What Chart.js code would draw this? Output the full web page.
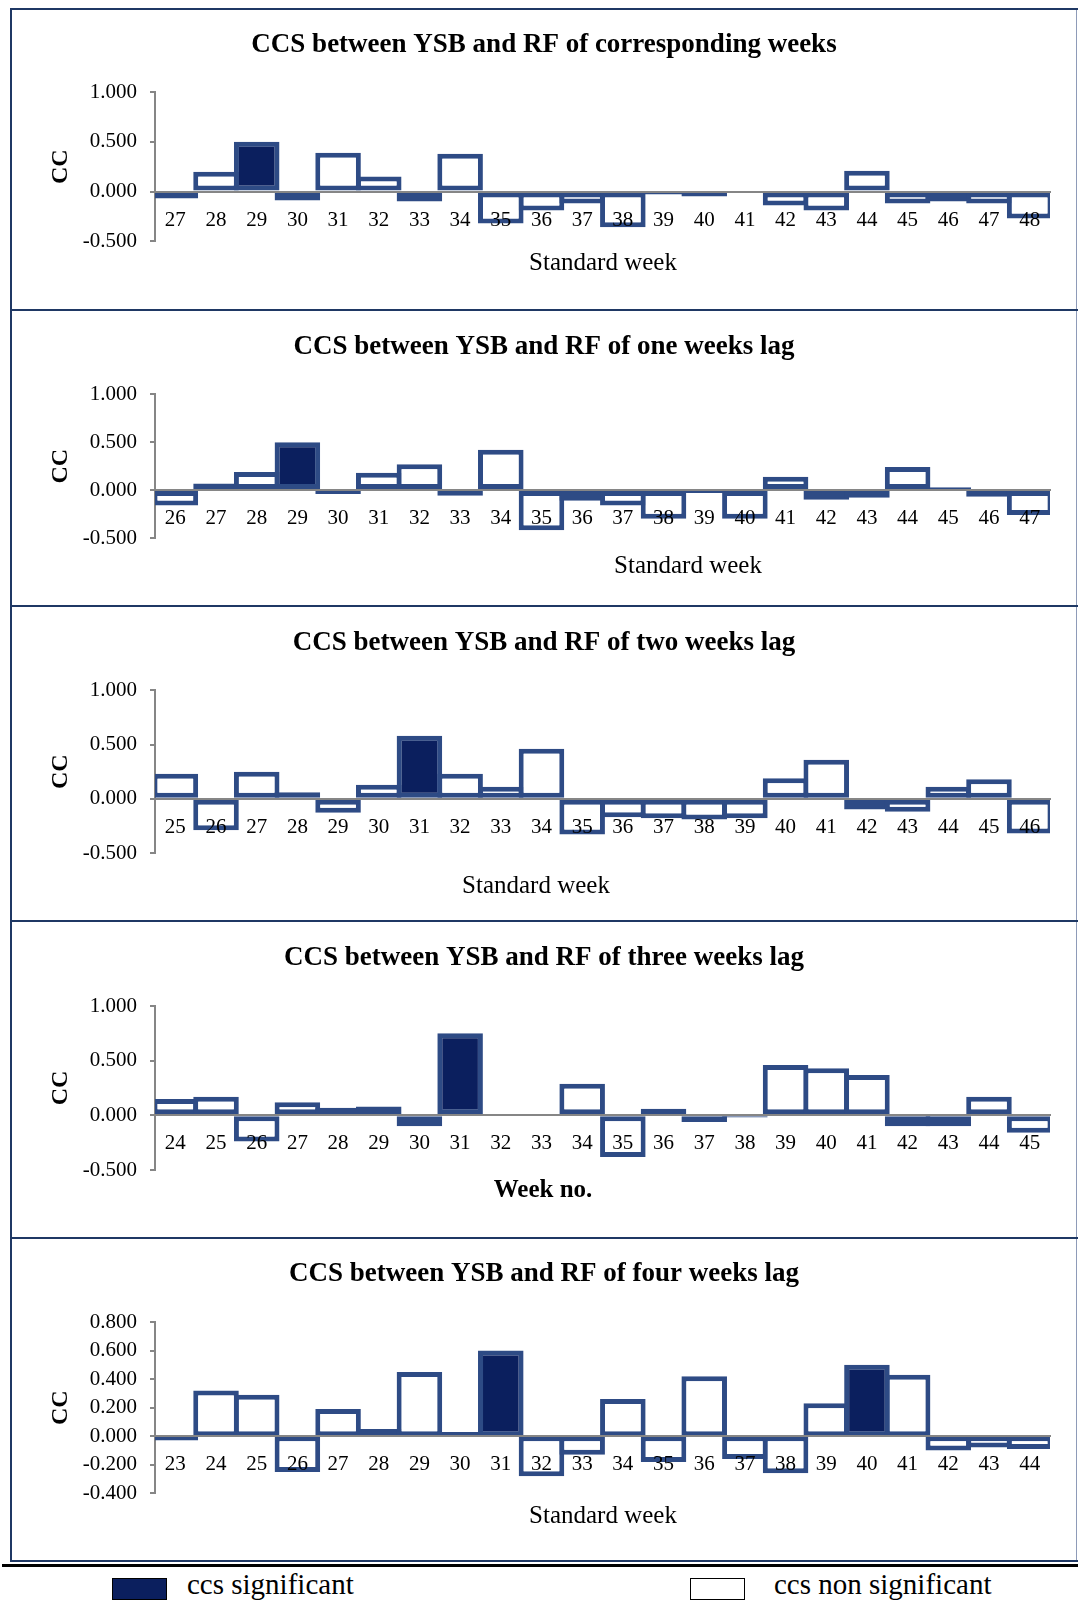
<!DOCTYPE html>
<html>
<head>
<meta charset="utf-8">
<script src="https://cdn.jsdelivr.net/npm/chart.js@4.4.1/dist/chart.umd.min.js"></script>
<style>
    body { margin: 0; width: 1078px; height: 1600px; background: #fff; overflow: hidden; position: relative; font-family: 'Liberation Serif', 'Times New Roman', serif; }
    .line { position: absolute; }
    canvas { position: absolute; left: 12px; }
    .xtitle { position: absolute; font-size: 25px; color: #000; white-space: nowrap; transform: translate(-50%, -50%); }
    .legend-box { position: absolute; top: 1578px; width: 55px; height: 22px; border: 1px solid #000; box-sizing: border-box; }
    .legend-text { position: absolute; top: 1570px; font-size: 29px; line-height: 29px; color: #000; white-space: nowrap; }
</style>
</head>
<body>
<div class="line" style="left:10px;top:8px;width:2px;height:1554px;background:#1f3864"></div>
<div class="line" style="left:1076px;top:8px;width:1px;height:1554px;background:#8e9bb8"></div>
<div class="line" style="left:10px;top:8px;width:1068px;height:2px;background:#1f3864"></div>
<div class="line" style="left:10px;top:309px;width:1068px;height:2px;background:#1f3864"></div>
<div class="line" style="left:10px;top:605px;width:1068px;height:2px;background:#1f3864"></div>
<div class="line" style="left:10px;top:920px;width:1068px;height:2px;background:#1f3864"></div>
<div class="line" style="left:10px;top:1237px;width:1068px;height:2px;background:#1f3864"></div>
<div class="line" style="left:10px;top:1560px;width:1068px;height:2px;background:#1f3864"></div>
<div class="line" style="left:2px;top:1564px;width:1076px;height:3px;background:#000"></div>

<canvas id="c1" width="1064" height="298" style="top:10px"></canvas>
<canvas id="c2" width="1064" height="293" style="top:311px"></canvas>
<canvas id="c3" width="1064" height="312" style="top:607px"></canvas>
<canvas id="c4" width="1064" height="314" style="top:922px"></canvas>
<canvas id="c5" width="1064" height="321" style="top:1239px"></canvas>

<div class="xtitle" style="left:603px;top:262px">Standard week</div>
<div class="xtitle" style="left:688px;top:565px">Standard week</div>
<div class="xtitle" style="left:536px;top:885px">Standard week</div>
<div class="xtitle" style="left:543px;top:1189px;font-weight:bold">Week no.</div>
<div class="xtitle" style="left:603px;top:1515px">Standard week</div>

<div class="legend-box" style="left:112px;background:#0b1f5e"></div>
<div class="legend-text" style="left:187px">ccs significant</div>
<div class="legend-box" style="left:690px;background:#fff"></div>
<div class="legend-text" style="left:774px">ccs non significant</div>

<script>
// standard weeks and cross correlation values, one set per lag
const weeks0 = [27, 28, 29, 30, 31, 32, 33, 34, 35, 36, 37, 38, 39, 40, 41, 42, 43, 44, 45, 46, 47, 48];
const cc0 = [-0.07, 0.20, 0.50, -0.09, 0.39, 0.15, -0.10, 0.38, -0.32, -0.19, -0.12, -0.36, -0.03, -0.05, 0.01, -0.14, -0.19, 0.21, -0.12, -0.10, -0.12, -0.27];
const sig0 = [29];

const weeks1 = [26, 27, 28, 29, 30, 31, 32, 33, 34, 35, 36, 37, 38, 39, 40, 41, 42, 43, 44, 45, 46, 47];
const cc1 = [-0.16, 0.07, 0.19, 0.50, -0.04, 0.18, 0.27, -0.06, 0.42, -0.42, -0.11, -0.16, -0.30, -0.03, -0.30, 0.14, -0.10, -0.08, 0.24, 0.03, -0.07, -0.26];
const sig1 = [29];

const weeks2 = [25, 26, 27, 28, 29, 30, 31, 32, 33, 34, 35, 36, 37, 38, 39, 40, 41, 42, 43, 44, 45, 46];
const cc2 = [0.23, -0.29, 0.25, 0.06, -0.13, 0.13, 0.58, 0.23, 0.11, 0.46, -0.33, -0.17, -0.18, -0.19, -0.18, 0.19, 0.36, -0.10, -0.12, 0.11, 0.18, -0.32];
const sig2 = [31];

const weeks3 = [24, 25, 26, 27, 28, 29, 30, 31, 32, 33, 34, 35, 36, 37, 38, 39, 40, 41, 42, 43, 44, 45];
const cc3 = [0.15, 0.17, -0.24, 0.12, 0.07, 0.08, -0.10, 0.75, 0.01, 0.005, 0.29, -0.38, 0.06, -0.06, -0.02, 0.46, 0.43, 0.37, -0.10, -0.10, 0.17, -0.16];
const sig3 = [31];

const weeks4 = [23, 24, 25, 26, 27, 28, 29, 30, 31, 32, 33, 34, 35, 36, 37, 38, 39, 40, 41, 42, 43, 44];
const cc4 = [-0.03, 0.32, 0.29, -0.25, 0.19, 0.05, 0.45, 0.03, 0.60, -0.28, -0.13, 0.26, -0.18, 0.42, -0.16, -0.26, 0.23, 0.50, 0.43, -0.10, -0.08, -0.09];
const sig4 = [31, 40];

const titles = [
    'CCS between YSB and RF of corresponding weeks',
    'CCS between YSB and RF of one weeks lag',
    'CCS between YSB and RF of two weeks lag',
    'CCS between YSB and RF of three weeks lag',
    'CCS between YSB and RF of four weeks lag'
];
const yMin = [-0.5, -0.5, -0.5, -0.5, -0.4];
const yMax = [1.0, 1.0, 1.0, 1.0, 0.8];
const yStep = [0.5, 0.5, 0.5, 0.5, 0.2];

// page layout (pixels): canvas top/height, title centre, plot top/bottom
const layout = [
    { top: 10, h: 298, titleY: 45, plotTop: 92, plotBottom: 241.3 },
    { top: 311, h: 293, titleY: 347, plotTop: 394.3, plotBottom: 538 },
    { top: 607, h: 312, titleY: 643, plotTop: 690.3, plotBottom: 853 },
    { top: 922, h: 314, titleY: 958, plotTop: 1006, plotBottom: 1170 },
    { top: 1239, h: 321, titleY: 1274, plotTop: 1322, plotBottom: 1493.3 }
];

const SERIF = "'Liberation Serif', 'Times New Roman', serif";
const NAVY = '#0b1f5e';
const EDGE = '#2e4b85';
const GREY = '#868686';
const TITLE_SIZE = 27;
const SIDE_PAD = 26;

function buildPanel(i, weeks, values, significant) {
    const box = layout[i];
    const lh = TITLE_SIZE * 1.2;
    const padTop = box.titleY - box.top - lh / 2;
    const padBottom = box.plotTop - box.top - padTop - lh;
    const ctx = document.getElementById('c' + (i + 1)).getContext('2d');

    return new Chart(ctx, {
        type: 'bar',
        data: {
            labels: weeks.map(String),
            datasets: [{
                data: values,
                backgroundColor: weeks.map(w => significant.includes(w) ? NAVY : '#ffffff'),
                borderColor: EDGE,
                borderWidth: 5,
                borderSkipped: false,
                barPercentage: 1.12,
                categoryPercentage: 1
            }]
        },
        options: {
            responsive: false,
            animation: false,
            devicePixelRatio: 1,
            layout: {
                padding: { top: 0, left: SIDE_PAD, right: SIDE_PAD, bottom: box.top + box.h - box.plotBottom }
            },
            plugins: {
                legend: { display: false },
                tooltip: { enabled: false },
                title: {
                    display: true,
                    text: titles[i],
                    color: '#000',
                    font: { family: SERIF, size: TITLE_SIZE, weight: 'bold' },
                    padding: { top: padTop, bottom: padBottom }
                }
            },
            scales: {
                x: {
                    position: { y: 0 },
                    grid: { display: false },
                    border: { color: GREY, width: 2, z: 1 },
                    ticks: {
                        z: 1,
                        color: '#000',
                        font: { family: SERIF, size: 21 },
                        padding: 8,
                        maxRotation: 0,
                        autoSkip: false
                    },
                    afterFit: scale => { scale.height = 0; }
                },
                y: {
                    min: yMin[i],
                    max: yMax[i],
                    ticks: {
                        stepSize: yStep[i],
                        color: '#000',
                        font: { family: SERIF, size: 21 },
                        padding: 13,
                        callback: v => Math.abs(v) < 1e-9 ? '0.000' : v.toFixed(3)
                    },
                    grid: { drawOnChartArea: false, tickLength: 5, color: GREY, lineWidth: 2 },
                    border: { color: GREY, width: 2 },
                    title: {
                        display: true,
                        text: 'CC',
                        color: '#000',
                        font: { family: SERIF, size: 24, weight: 'bold' },
                        padding: { top: 8.6, bottom: 0 }
                    },
                    afterFit: scale => { scale.width = 143 - SIDE_PAD; }
                }
            }
        }
    });
}

buildPanel(0, weeks0, cc0, sig0);
buildPanel(1, weeks1, cc1, sig1);
buildPanel(2, weeks2, cc2, sig2);
buildPanel(3, weeks3, cc3, sig3);
buildPanel(4, weeks4, cc4, sig4);
</script>
</body>
</html>
